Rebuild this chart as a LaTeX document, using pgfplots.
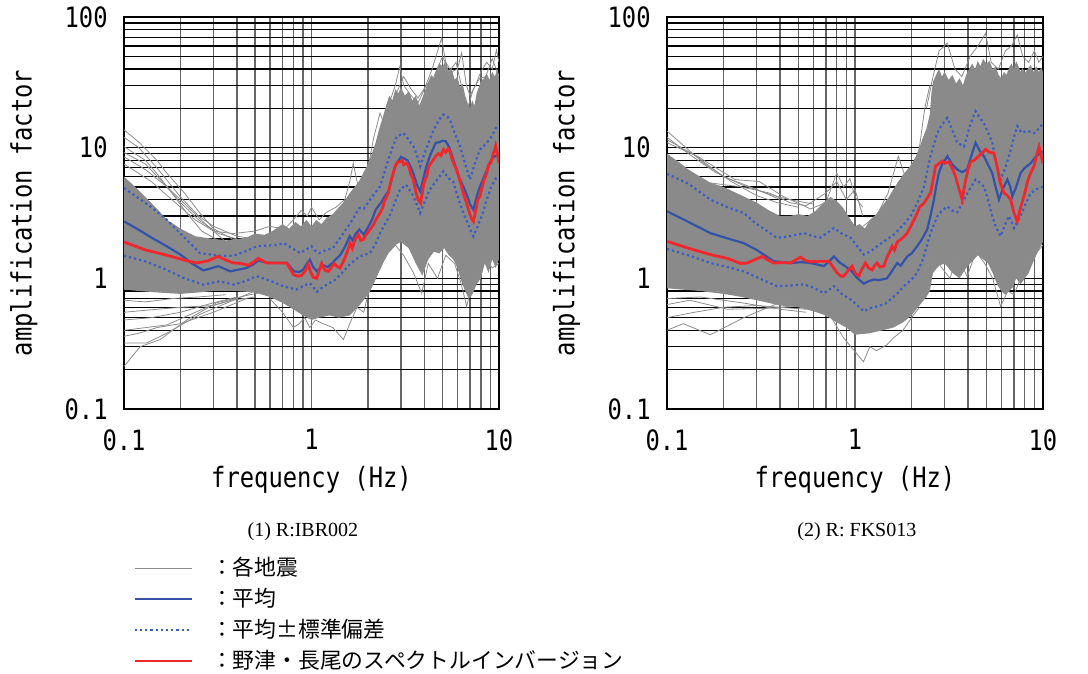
\documentclass[border=0pt]{standalone}
\usepackage{pgfplots}
\pgfplotsset{compat=1.18}
\usepackage{fontspec}
\setmainfont{Liberation Serif}
\newfontfamily\gothic[FakeStretch=0.85]{DejaVu Sans Mono}
\newfontfamily\jp{Noto Sans CJK JP}
\definecolor{cloud}{HTML}{8A8A8A}
\definecolor{gline}{HTML}{8C8C8C}
\definecolor{mblue}{HTML}{3352A8}
\definecolor{dblue}{HTML}{3A5CC4}
\definecolor{ired}{HTML}{F0282D}
\pgfplotsset{legend image code/.code={\draw[#1] (0pt,0pt) -- (28.5pt,0pt);}}
\begin{document}
\begin{tikzpicture}
\useasboundingbox (0,0) rectangle (544pt,337pt);
% ---------------- left: R:IBR002 ----------------
\begin{axis}[
    xmode=log, ymode=log, scale only axis, clip mode=individual,
    width=187.5pt, height=196pt, at={(62pt,132.5pt)}, anchor=south west,
    xmin=0.1,xmax=10,ymin=0.1,ymax=100,
    xtick={0.1,1,10}, xticklabels={0.1,1,10},
    ytick={0.1,1,10,100}, yticklabels={0.1,1,10,100},
    minor xtick={0.2,0.3,0.4,0.5,0.6,0.7,0.8,0.9,2,3,4,5,6,7,8,9},
    minor ytick={0.2,0.3,0.4,0.5,0.6,0.7,0.8,0.9,2,3,4,5,6,7,8,9,20,30,40,50,60,70,80,90},
    grid=both,
    major x grid style={black!60,line width=0.8pt},
    minor x grid style={black!60,line width=0.7pt},
    major y grid style={black,line width=0.6pt},
    minor y grid style={black,line width=0.55pt},
    major tick length=0pt, minor tick length=0pt,
    axis line style={black,line width=0.7pt},
    tick label style={font=\gothic\fontsize{14}{16}\selectfont, inner sep=0pt},
    xticklabel style={yshift=-10pt},
    yticklabel style={xshift=-8pt},
    xlabel={frequency (Hz)}, ylabel={amplification factor},
    label style={font=\gothic\fontsize{14}{16}\selectfont},
    xlabel style={at={(axis description cs:0.5,-0.181)},anchor=center},
    ylabel style={at={(axis description cs:-0.267,0.5)},anchor=center},
    legend cell align=left,
    legend style={at={(axis description cs:0.008,-0.357)}, anchor=north west,
    draw=none, fill=none, font=\jp\fontsize{10.9}{13}\selectfont, row sep=0.8pt,
    /tikz/every odd column/.append style={column sep=7pt}},
]
\addplot[fill=cloud, draw=none, forget plot] coordinates {
(0.1,6.0)(0.115,5.0)(0.13,4.2)(0.15,3.4)(0.17,2.8)(0.2,2.4)(0.24,2.1)(0.3,2.0)(0.35,1.95)(0.4,2.0)(0.45,2.05)(0.5,2.2)(0.56,2.15)(0.62,2.3)(0.7,2.6)(0.76,2.4)(0.82,2.7)(0.88,2.5)(0.94,2.8)(1.0,2.5)(1.06,2.8)(1.13,2.6)(1.2,2.9)(1.3,3.1)(1.4,3.5)(1.5,3.9)(1.6,4.5)(1.7,5.0)(1.8,5.6)(1.9,6.5)(2.0,7.5)(2.1,9)(2.2,11)(2.3,14)(2.4,17)(2.5,21)(2.6,25)(2.7,23)(2.8,28)(2.9,26)(3.0,29)(3.15,25)(3.3,27)(3.45,23)(3.6,25)(3.75,21)(3.9,24)(4.05,28)(4.2,32)(4.35,36)(4.5,34)(4.65,40)(4.8,44)(5.0,42)(5.2,46)(5.4,38)(5.6,40)(5.8,33)(6.0,35)(6.2,29)(6.4,31)(6.6,25)(6.8,22)(7.0,20)(7.2,23)(7.4,21)(7.6,26)(7.8,29)(8.0,32)(8.3,34)(8.6,37)(8.9,33)(9.2,38)(9.5,35)(9.8,40)(10,36)
(10,1.4)(9.6,1.2)(9.2,1.4)(8.8,1.1)(8.4,1.3)(8.0,1.0)(7.6,0.9)(7.2,0.75)(6.9,0.7)(6.6,0.8)(6.3,0.95)(6.0,1.2)(5.7,1.4)(5.4,1.5)(5.1,1.7)(4.8,1.55)(4.5,1.6)(4.2,1.4)(3.9,1.05)(3.6,1.3)(3.3,1.7)(3.0,1.9)(2.8,1.8)(2.6,1.6)(2.4,1.3)(2.2,1.0)(2.0,0.75)(1.8,0.62)(1.6,0.52)(1.4,0.5)(1.25,0.52)(1.1,0.5)(1.0,0.48)(0.9,0.52)(0.8,0.58)(0.7,0.65)(0.6,0.72)(0.5,0.78)(0.4,0.8)(0.3,0.8)(0.25,0.78)(0.2,0.76)(0.15,0.78)(0.12,0.8)(0.1,0.82)
} -- cycle;
\addplot[gline, line width=0.4pt] coordinates {(0.1,13.7)(0.12,11)(0.15,8)(0.169,6.4)(0.21,4.5)(0.254,3.16)(0.3,2.4)(0.383,1.98)(0.5,1.8)(0.58,1.75)(0.7,1.9)};
\addlegendentry{：各地震}
\addplot[gline, line width=0.4pt, forget plot] coordinates {(0.1,10.2)(0.13,8)(0.149,6.4)(0.18,4.5)(0.216,3.16)(0.26,2.3)(0.312,1.98)(0.4,1.8)(0.5,1.7)};
\addplot[gline, line width=0.4pt, forget plot] coordinates {(0.1,8.5)(0.13,6.8)(0.17,5)(0.22,3.5)(0.28,2.5)(0.35,1.9)(0.45,1.6)(0.55,1.6)};
\addplot[gline, line width=0.4pt, forget plot] coordinates {(0.1,12)(0.12,10)(0.15,7)(0.2,4.2)(0.25,3.0)(0.3,2.5)(0.4,2.1)(0.5,2.0)};
\addplot[gline, line width=0.4pt, forget plot] coordinates {(0.1,9.2)(0.13,7.5)(0.16,5.5)(0.2,3.8)(0.25,2.8)(0.32,2.2)(0.4,2.0)};
\addplot[gline, line width=0.4pt, forget plot] coordinates {(0.1,7.5)(0.14,5.5)(0.18,4.0)(0.24,2.8)(0.3,2.3)(0.38,2.2)(0.5,2.3)(0.6,2.5)(0.7,2.4)};
\addplot[gline, line width=0.4pt, forget plot] coordinates {(0.1,0.212)(0.122,0.30)(0.156,0.34)(0.216,0.48)(0.312,0.65)(0.47,0.75)(0.6,0.8)};
\addplot[gline, line width=0.4pt, forget plot] coordinates {(0.1,0.32)(0.132,0.32)(0.169,0.38)(0.254,0.53)(0.383,0.68)(0.5,0.72)};
\addplot[gline, line width=0.4pt, forget plot] coordinates {(0.1,0.40)(0.169,0.44)(0.276,0.60)(0.4,0.7)(0.5,0.8)};
\addplot[gline, line width=0.4pt, forget plot] coordinates {(0.1,0.55)(0.15,0.58)(0.2,0.6)(0.3,0.62)(0.4,0.7)};
\addplot[gline, line width=0.4pt, forget plot] coordinates {(0.1,0.68)(0.13,0.66)(0.18,0.7)(0.25,0.72)(0.35,0.75)};
\addplot[gline, line width=0.4pt, forget plot] coordinates {(0.1,0.48)(0.14,0.5)(0.2,0.55)(0.3,0.65)(0.4,0.72)};
\addplot[gline, line width=0.4pt, forget plot] coordinates {(0.1,0.36)(0.12,0.38)(0.15,0.42)(0.2,0.45)(0.3,0.55)(0.45,0.7)};
\addplot[gline, line width=0.4pt, forget plot] coordinates {(0.6,0.7)(0.7,0.55)(0.75,0.48)(0.8,0.42)(0.86,0.45)(0.92,0.5)(0.98,0.42)(1.05,0.48)(1.15,0.45)(1.3,0.42)(1.48,0.34)(1.6,0.45)(1.75,0.6)(1.9,0.55)(2.0,0.75)(2.2,1.0)};
\addplot[gline, line width=0.4pt, forget plot] coordinates {(0.9,2.0)(1.0,2.5)(1.1,2.1)(1.3,2.6)(1.45,3.3)(1.6,5.5)(1.67,7.6)(1.75,5.5)(1.85,4.5)(2.0,7)(2.15,12)(2.32,18.4)(2.5,14)(2.7,16)};
\addplot[gline, line width=0.4pt, forget plot] coordinates {(2.4,12)(2.6,22)(2.8,30)(2.96,42)(3.1,30)(3.4,25)(3.7,22)(4.0,28)(4.4,40)(4.94,69)(5.2,45)(5.6,38)(6.0,40)(6.32,53)(6.7,30)(7.0,25)(7.5,30)(8.0,38)(8.6,45)(9.2,40)(9.7,56)(10,45)};
\addplot[gline, line width=0.4pt, forget plot] coordinates {(2.2,1.0)(2.5,1.5)(2.8,1.8)(3.1,1.5)(3.5,1.1)(3.87,0.77)(4.2,1.3)(4.7,1.0)(5.2,1.5)(5.8,1.3)(6.3,0.9)(6.72,0.61)(7.2,0.9)(7.8,1.1)(8.5,1.4)(9.2,1.2)(10,1.3)};
\addplot[gline, line width=0.4pt, forget plot] coordinates {(2.2,6)(2.4,10)(2.6,16)(2.8,25)(3.1,35)(3.4,28)(3.7,24)(4.1,30)(4.5,35)(5.0,50)(5.4,38)(5.9,45)(6.3,30)(6.8,20)(7.3,28)(7.9,34)(8.5,35)(9.2,48)(10,35)};
\addplot[gline, line width=0.4pt, forget plot] coordinates {(0.7,2.3)(0.8,2.8)(0.88,3.3)(0.95,3.0)(1.0,3.5)(1.1,2.8)(1.2,3.2)(1.35,3.5)(1.5,4.0)};
\addplot[mblue, line width=1.1pt] coordinates {(0.1,2.73)(0.12,2.35)(0.14,2.05)(0.169,1.76)(0.2,1.52)(0.23,1.30)(0.265,1.15)(0.29,1.19)(0.318,1.24)(0.34,1.19)(0.368,1.13)(0.4,1.16)(0.45,1.20)(0.49,1.28)(0.52,1.37)(0.57,1.32)(0.626,1.31)(0.74,1.31)(0.78,1.20)(0.81,1.13)(0.86,1.12)(0.9,1.16)(0.94,1.28)(0.98,1.39)(1.02,1.22)(1.07,1.13)(1.12,1.20)(1.17,1.25)(1.22,1.22)(1.3,1.32)(1.36,1.42)(1.42,1.50)(1.5,1.72)(1.6,2.10)(1.66,1.95)(1.72,2.20)(1.8,2.36)(1.9,2.16)(2.0,2.45)(2.1,2.80)(2.2,3.35)(2.35,3.8)(2.45,4.2)(2.57,4.63)(2.7,6.0)(2.8,7.2)(2.9,7.9)(3.0,8.5)(3.1,8.3)(3.25,8.0)(3.4,7.0)(3.5,6.3)(3.65,5.2)(3.8,4.63)(3.95,5.8)(4.1,7.2)(4.3,8.8)(4.45,9.8)(4.6,10.9)(4.8,11.0)(5.0,11.3)(5.2,11.2)(5.4,10.2)(5.55,9.2)(5.7,8.1)(5.9,7.0)(6.1,6.0)(6.45,5.05)(6.8,4.2)(7.0,3.7)(7.3,3.35)(7.6,4.2)(7.9,5.0)(8.2,5.7)(8.6,6.7)(9.1,8.1)(9.5,8.6)(10,8.8)};
\addlegendentry{：平均}
\addplot[dblue, line width=1.1pt, dash pattern=on 1.1pt off 1.5pt] coordinates {(0.1,4.91)(0.12,4.1)(0.14,3.5)(0.169,2.81)(0.2,2.2)(0.23,1.8)(0.254,1.56)(0.29,1.52)(0.325,1.49)(0.383,1.49)(0.45,1.62)(0.51,1.76)(0.58,1.78)(0.65,1.80)(0.71,1.86)(0.78,1.72)(0.87,1.56)(0.93,1.65)(1.0,1.76)(1.05,1.62)(1.1,1.56)(1.2,1.65)(1.3,1.70)(1.48,2.22)(1.6,2.6)(1.8,3.45)(1.9,3.4)(2.05,4.0)(2.32,5.05)(2.45,6.5)(2.57,8.1)(2.7,10.0)(2.85,12.2)(3.0,12.6)(3.1,12.9)(3.3,11.5)(3.5,10.2)(3.65,8.8)(3.8,7.2)(4.0,9.0)(4.27,11.5)(4.5,13.8)(4.8,16.5)(5.05,17.9)(5.3,17.4)(5.5,16.0)(5.8,13.0)(6.2,10.2)(6.6,7.5)(7.0,5.7)(7.4,7.4)(7.9,9.66)(8.4,10.5)(8.9,11.5)(9.3,12.8)(9.7,14.5)(10,14.6)};
\addlegendentry{：平均±標準偏差}
\addplot[dblue, line width=1.1pt, dash pattern=on 1.1pt off 1.5pt, forget plot] coordinates {(0.1,1.49)(0.13,1.35)(0.169,1.16)(0.21,1.0)(0.265,0.895)(0.29,0.92)(0.325,0.95)(0.383,0.895)(0.45,0.96)(0.51,1.04)(0.6,0.96)(0.71,0.87)(0.83,0.82)(0.9,0.87)(0.98,0.92)(1.07,0.79)(1.15,0.86)(1.25,0.92)(1.35,0.98)(1.48,1.13)(1.6,1.28)(1.8,1.47)(2.05,1.56)(2.2,1.85)(2.32,2.22)(2.6,2.98)(2.8,3.9)(2.96,4.77)(3.2,5.2)(3.5,4.24)(3.8,3.16)(4.0,3.8)(4.27,4.77)(4.6,5.5)(5.05,6.6)(5.4,5.8)(5.7,5.5)(6.0,4.3)(6.45,3.16)(7.0,2.4)(7.3,2.10)(7.7,2.5)(8.2,3.16)(8.6,4.0)(9.1,5.05)(9.6,5.8)(10,6.03)};
\addplot[ired, line width=1.4pt] coordinates {(0.1,1.90)(0.13,1.65)(0.17,1.50)(0.21,1.38)(0.244,1.31)(0.28,1.36)(0.318,1.47)(0.35,1.38)(0.383,1.31)(0.42,1.30)(0.46,1.26)(0.49,1.33)(0.52,1.42)(0.55,1.36)(0.577,1.31)(0.65,1.31)(0.737,1.31)(0.77,1.18)(0.80,1.07)(0.84,1.04)(0.886,1.05)(0.93,1.15)(0.96,1.28)(0.99,1.12)(1.02,1.02)(1.066,1.00)(1.1,1.15)(1.133,1.30)(1.18,1.15)(1.23,1.13)(1.28,1.22)(1.32,1.30)(1.362,1.24)(1.42,1.20)(1.48,1.35)(1.54,1.55)(1.604,1.86)(1.65,1.70)(1.71,2.0)(1.778,2.16)(1.83,1.95)(1.889,1.98)(1.95,2.15)(2.05,2.36)(2.15,2.6)(2.2,2.8)(2.32,3.16)(2.4,3.5)(2.45,3.9)(2.57,4.5)(2.65,5.5)(2.73,6.4)(2.8,7.3)(2.88,7.8)(2.96,7.77)(3.05,8.0)(3.1,7.4)(3.22,7.63)(3.3,7.2)(3.38,6.3)(3.49,5.69)(3.6,4.6)(3.7,4.0)(3.82,3.77)(3.9,4.5)(3.97,5.3)(4.11,6.03)(4.2,7.0)(4.3,7.5)(4.47,8.09)(4.6,8.6)(4.75,9.0)(4.9,8.7)(5.05,9.66)(5.2,9.2)(5.35,9.8)(5.48,9.37)(5.6,8.3)(5.75,7.5)(5.94,6.79)(6.1,6.0)(6.3,5.1)(6.45,4.50)(6.7,3.8)(6.9,3.3)(7.1,2.9)(7.30,2.73)(7.45,3.1)(7.6,3.6)(7.7,4.0)(7.92,4.24)(8.1,4.9)(8.3,5.6)(8.6,6.4)(8.8,7.4)(9.0,7.6)(9.2,8.3)(9.33,9.10)(9.5,9.7)(9.6,10.3)(9.72,9.5)(9.85,8.7)(10,7.6)};
\addlegendentry{：野津・長尾のスペクトルインバージョン}
\node[font=\fontsize{10}{12}\selectfont] at (axis description cs:0.477,-0.314) {(1) R:IBR002};
\end{axis}
% ---------------- right: R:FKS013 ----------------
\begin{axis}[
    xmode=log, ymode=log, scale only axis, clip mode=individual,
    width=188pt, height=196pt, at={(333.5pt,132.5pt)}, anchor=south west,
    xmin=0.1,xmax=10,ymin=0.1,ymax=100,
    xtick={0.1,1,10}, xticklabels={0.1,1,10},
    ytick={0.1,1,10,100}, yticklabels={0.1,1,10,100},
    minor xtick={0.2,0.3,0.4,0.5,0.6,0.7,0.8,0.9,2,3,4,5,6,7,8,9},
    minor ytick={0.2,0.3,0.4,0.5,0.6,0.7,0.8,0.9,2,3,4,5,6,7,8,9,20,30,40,50,60,70,80,90},
    grid=both,
    major x grid style={black!60,line width=0.8pt},
    minor x grid style={black!60,line width=0.7pt},
    major y grid style={black,line width=0.6pt},
    minor y grid style={black,line width=0.55pt},
    major tick length=0pt, minor tick length=0pt,
    axis line style={black,line width=0.7pt},
    tick label style={font=\gothic\fontsize{14}{16}\selectfont, inner sep=0pt},
    xticklabel style={yshift=-10pt},
    yticklabel style={xshift=-8pt},
    xlabel={frequency (Hz)}, ylabel={amplification factor},
    label style={font=\gothic\fontsize{14}{16}\selectfont},
    xlabel style={at={(axis description cs:0.5,-0.181)},anchor=center},
    ylabel style={at={(axis description cs:-0.267,0.5)},anchor=center},
]
\addplot[fill=cloud, draw=none] coordinates {
(0.1,9)(0.115,7.8)(0.13,6.8)(0.15,6.0)(0.17,5.4)(0.2,5.0)(0.25,4.3)(0.3,3.8)(0.35,3.3)(0.4,3.0)(0.45,3.0)(0.5,3.1)(0.56,3.0)(0.62,3.3)(0.68,3.8)(0.74,4.2)(0.8,3.9)(0.86,3.5)(0.92,3.0)(1.0,2.5)(1.06,2.6)(1.13,2.4)(1.2,2.8)(1.3,3.1)(1.4,3.6)(1.5,4.1)(1.6,4.8)(1.7,5.5)(1.8,6.2)(1.9,6.8)(2.0,7.5)(2.1,8.5)(2.2,10)(2.3,12)(2.4,14)(2.5,18)(2.55,26)(2.6,32)(2.7,36)(2.8,40)(2.9,35)(3.0,38)(3.15,33)(3.3,36)(3.45,31)(3.6,34)(3.75,30)(3.9,36)(4.05,40)(4.2,44)(4.35,40)(4.5,46)(4.65,42)(4.8,48)(5.0,44)(5.2,46)(5.4,40)(5.6,42)(5.8,36)(6.0,34)(6.2,38)(6.4,36)(6.6,41)(6.8,44)(7.0,40)(7.2,46)(7.4,42)(7.6,38)(7.8,41)(8.0,37)(8.3,40)(8.6,43)(8.9,38)(9.2,42)(9.5,38)(9.8,41)(10,38)
(10,1.9)(9.6,1.7)(9.2,1.5)(8.8,1.3)(8.4,1.1)(8.0,1.0)(7.6,0.9)(7.2,1.0)(6.9,0.85)(6.6,0.8)(6.3,0.75)(6.0,0.8)(5.7,0.9)(5.4,1.1)(5.1,1.3)(4.8,1.4)(4.5,1.5)(4.2,1.35)(3.9,1.2)(3.6,1.0)(3.3,1.1)(3.0,1.3)(2.8,1.25)(2.6,1.1)(2.5,0.8)(2.4,0.72)(2.2,0.62)(2.0,0.52)(1.8,0.46)(1.6,0.42)(1.4,0.4)(1.2,0.38)(1.0,0.37)(0.9,0.42)(0.8,0.46)(0.7,0.52)(0.6,0.56)(0.5,0.6)(0.4,0.62)(0.3,0.68)(0.25,0.72)(0.2,0.76)(0.15,0.8)(0.12,0.82)(0.1,0.84)
} -- cycle;
\addplot[gline, line width=0.4pt] coordinates {(0.1,13.4)(0.157,7.6)(0.22,5.5)(0.3,4.3)(0.385,3.8)(0.5,3.5)};
\addplot[gline, line width=0.4pt] coordinates {(0.1,10.9)(0.145,8.6)(0.23,5.7)(0.31,5.5)(0.42,4.2)(0.58,3.4)(0.7,3.8)(0.8,6.4)(0.87,5)(0.94,5.8)(1.0,4.2)(1.1,3.5)};
\addplot[gline, line width=0.4pt] coordinates {(0.1,12)(0.13,9)(0.18,6.5)(0.25,5.2)(0.35,4.4)(0.45,4.0)(0.6,3.7)};
\addplot[gline, line width=0.4pt] coordinates {(0.1,11.5)(0.14,8.8)(0.2,6.0)(0.3,4.8)(0.4,4.0)};
\addplot[gline, line width=0.4pt] coordinates {(0.1,0.40)(0.122,0.45)(0.17,0.37)(0.256,0.50)(0.385,0.64)(0.5,0.7)};
\addplot[gline, line width=0.4pt] coordinates {(0.1,0.63)(0.132,0.68)(0.21,0.58)(0.35,0.59)(0.5,0.62)};
\addplot[gline, line width=0.4pt] coordinates {(0.1,0.5)(0.14,0.55)(0.2,0.6)(0.3,0.62)(0.4,0.6)(0.55,0.58)};
\addplot[gline, line width=0.4pt] coordinates {(0.1,0.7)(0.15,0.72)(0.25,0.65)(0.4,0.58)(0.55,0.55)};
\addplot[gline, line width=0.4pt] coordinates {(0.6,0.6)(0.75,0.5)(0.87,0.35)(0.95,0.30)(1.11,0.23)(1.2,0.30)(1.3,0.28)(1.48,0.31)(1.6,0.35)(1.8,0.4)(2.0,0.5)(2.2,0.6)};
\addplot[gline, line width=0.4pt] coordinates {(1.1,2.5)(1.3,3.0)(1.5,4.5)(1.7,8.6)(1.85,6)(2.0,5.5)(2.2,10)(2.35,20)(2.5,30)};
\addplot[gline, line width=0.4pt] coordinates {(2.4,20)(2.6,35)(2.8,55)(3.1,63)(3.4,40)(3.7,35)(4.1,50)(4.5,60)(4.95,75)(5.3,45)(5.8,40)(6.3,55)(6.8,60)(7.3,73)(7.8,50)(8.4,45)(9.0,55)(9.5,45)(10,50)};
\addplot[gline, line width=0.4pt] coordinates {(2.4,1.0)(2.6,1.5)(2.9,1.2)(3.2,1.0)(3.5,1.5)(3.95,1.03)(4.4,1.6)(4.9,1.3)(5.4,1.0)(5.95,0.61)(6.5,0.8)(7.0,0.75)(7.6,1.0)(8.3,1.3)(9.0,1.5)(10,1.8)};
\addplot[gline, line width=0.4pt] coordinates {(0.1,6.0)(0.15,5.5)(0.25,5.0)(0.35,4.5)(0.45,3.8)(0.55,3.6)(0.7,4.5)(0.8,5.5)(0.9,4.0)(1.0,4.8)(1.1,3.0)};
\addplot[mblue, line width=1.1pt] coordinates {(0.1,3.26)(0.13,2.7)(0.17,2.22)(0.21,2.02)(0.256,1.86)(0.3,1.65)(0.37,1.35)(0.41,1.33)(0.454,1.31)(0.52,1.33)(0.58,1.31)(0.683,1.24)(0.73,1.35)(0.772,1.47)(0.83,1.32)(0.946,1.16)(1.03,1.0)(1.114,0.91)(1.18,0.95)(1.26,0.98)(1.35,0.97)(1.48,1.0)(1.55,1.10)(1.676,1.31)(1.75,1.25)(1.896,1.47)(2.0,1.55)(2.14,1.76)(2.25,1.95)(2.42,2.36)(2.52,3.0)(2.63,4.0)(2.7,5.0)(2.79,6.4)(2.9,7.4)(3.1,8.6)(3.3,7.4)(3.5,6.8)(3.7,6.5)(3.95,6.8)(4.15,8.6)(4.38,10.9)(4.6,9.5)(4.85,8.6)(5.1,7.4)(5.37,6.4)(5.6,5.0)(5.83,4.0)(6.1,4.8)(6.46,5.7)(6.7,5.0)(6.87,4.24)(7.2,5.0)(7.6,6.4)(8.0,7.0)(8.6,7.6)(9.2,8.6)(10,9.4)};
\addplot[dblue, line width=1.1pt, dash pattern=on 1.1pt off 1.5pt] coordinates {(0.1,6.3)(0.13,5.3)(0.17,4.0)(0.21,3.5)(0.256,3.16)(0.3,2.6)(0.385,2.04)(0.45,2.1)(0.534,2.22)(0.6,2.1)(0.655,2.05)(0.72,2.25)(0.772,2.43)(0.85,2.2)(0.946,2.05)(1.03,1.75)(1.114,1.52)(1.2,1.6)(1.312,1.76)(1.45,1.95)(1.61,2.16)(1.8,2.55)(1.974,2.98)(2.15,3.8)(2.33,5.05)(2.52,8.6)(2.74,12.9)(2.9,15.0)(3.1,16.9)(3.3,13.5)(3.5,10.9)(3.8,10.2)(4.1,15.0)(4.38,19.0)(4.6,17.0)(4.85,15.4)(5.37,11.0)(5.6,8.0)(5.95,5.7)(6.3,7.0)(6.59,8.6)(7.0,12.0)(7.3,14.6)(7.7,13.0)(8.25,13.5)(8.96,12.9)(9.5,14.0)(10,15.4)};
\addplot[dblue, line width=1.1pt, dash pattern=on 1.1pt off 1.5pt] coordinates {(0.1,1.68)(0.13,1.50)(0.17,1.31)(0.21,1.22)(0.256,1.13)(0.3,1.02)(0.385,0.87)(0.45,0.88)(0.534,0.90)(0.6,0.85)(0.683,0.77)(0.73,0.82)(0.772,0.87)(0.85,0.76)(0.946,0.69)(1.03,0.62)(1.114,0.56)(1.2,0.59)(1.312,0.61)(1.45,0.64)(1.545,0.69)(1.7,0.78)(1.82,0.87)(2.0,0.98)(2.14,1.10)(2.3,1.4)(2.52,2.22)(2.74,2.98)(2.9,3.3)(3.1,3.55)(3.3,3.3)(3.5,3.2)(3.8,4.0)(4.1,4.9)(4.38,5.7)(4.6,5.4)(4.85,5.05)(5.1,4.0)(5.37,3.0)(5.6,2.5)(5.95,2.1)(6.3,2.6)(6.59,3.0)(7.01,2.43)(7.3,2.7)(7.6,3.0)(8.0,3.6)(8.6,4.5)(9.2,4.8)(10,5.05)};
\addplot[ired, line width=1.4pt] coordinates {(0.1,1.92)(0.13,1.70)(0.17,1.52)(0.21,1.42)(0.246,1.30)(0.267,1.31)(0.29,1.38)(0.321,1.47)(0.345,1.38)(0.37,1.31)(0.41,1.32)(0.454,1.31)(0.49,1.40)(0.513,1.45)(0.55,1.36)(0.58,1.34)(0.65,1.35)(0.726,1.35)(0.77,1.20)(0.804,1.10)(0.84,1.04)(0.872,1.04)(0.92,1.15)(0.966,1.24)(1.0,1.10)(1.048,1.04)(1.09,1.18)(1.137,1.31)(1.18,1.20)(1.234,1.16)(1.27,1.25)(1.312,1.31)(1.36,1.22)(1.423,1.24)(1.48,1.45)(1.53,1.60)(1.578,1.76)(1.62,1.65)(1.68,1.90)(1.747,1.98)(1.8,2.05)(1.896,2.22)(1.95,2.4)(2.06,2.81)(2.15,3.2)(2.2,3.5)(2.33,3.77)(2.42,4.1)(2.52,4.5)(2.6,5.6)(2.68,7.2)(2.78,7.5)(2.91,7.9)(3.0,7.6)(3.16,7.8)(3.3,6.9)(3.43,6.0)(3.55,5.0)(3.72,4.0)(3.87,5.6)(4.0,6.8)(4.12,7.8)(4.3,8.0)(4.47,8.4)(4.7,9.0)(4.95,9.7)(5.2,9.2)(5.48,9.1)(5.7,7.2)(5.9,5.5)(6.2,4.5)(6.46,4.3)(6.73,4.0)(7.0,3.2)(7.3,2.73)(7.6,3.5)(7.92,4.24)(8.3,5.6)(8.6,6.4)(8.96,7.2)(9.2,8.5)(9.52,10.2)(9.75,8.8)(10,7.6)};
\node[font=\fontsize{10}{12}\selectfont] at (axis description cs:0.505,-0.314) {(2) R: FKS013};
\end{axis}
\end{tikzpicture}
\end{document}
